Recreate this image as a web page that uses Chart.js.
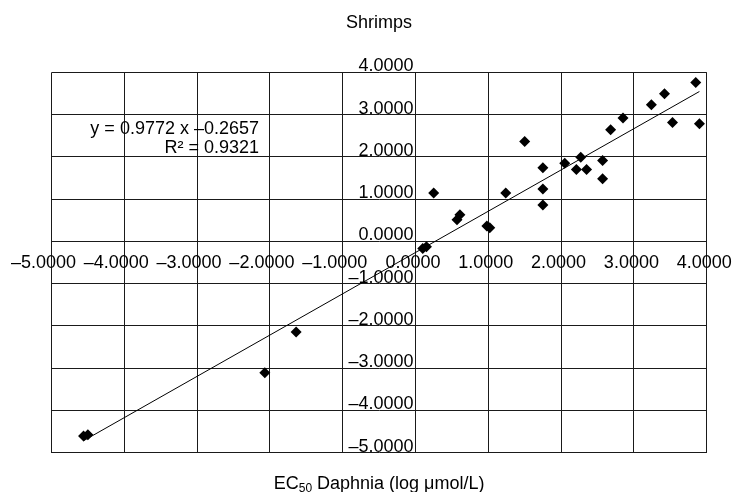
<!DOCTYPE html>
<html>
<head>
<meta charset="utf-8">
<title>Shrimps</title>
<script src="https://cdn.jsdelivr.net/npm/chart.js@4.4.0/dist/chart.umd.min.js"></script>
<style>
    html, body { margin: 0; padding: 0; background: #fff; }
    canvas { display: block; }
</style>
</head>
<body>
<canvas id="shrimps-chart" width="733" height="492"></canvas>
<script>
    "use strict";

    // EC50 Daphnia (log umol/L) vs shrimps
    const daphniaX = [-4.56, -4.50, -2.07, -1.64, 0.10, 0.15, 0.25, 0.57, 0.61, 0.98, 1.02, 1.24, 1.50, 1.75, 1.75, 1.75, 2.05, 2.21, 2.27, 2.35, 2.57, 2.57, 2.68, 2.85, 3.24, 3.42, 3.53, 3.85, 3.90];
    const shrimpY = [-4.61, -4.58, -3.11, -2.15, -0.17, -0.13, 1.14, 0.51, 0.63, 0.36, 0.32, 1.14, 2.36, 1.74, 1.24, 0.86, 1.85, 1.70, 1.99, 1.70, 1.91, 1.48, 2.64, 2.92, 3.23, 3.49, 2.81, 3.76, 2.78];

    // trendline as printed on the chart
    const slope = 0.9772;
    const intercept = -0.2657;
    const equationLines = ['y = 0.9772 x \u20130.2657', 'R\u00B2 = 0.9321'];

    const xTicks = [-5, -4, -3, -2, -1, 0, 1, 2, 3, 4];
    const xTickLabels = ['\u20135.0000', '\u20134.0000', '\u20133.0000', '\u20132.0000', '\u20131.0000', '0.0000', '1.0000', '2.0000', '3.0000', '4.0000'];
    const yTicks = [-5, -4, -3, -2, -1, 0, 1, 2, 3, 4];
    const yTickLabels = ['\u20135.0000', '\u20134.0000', '\u20133.0000', '\u20132.0000', '\u20131.0000', '0.0000', '1.0000', '2.0000', '3.0000', '4.0000'];

    const chartTitle = 'Shrimps';
    const xTitle = ['EC', '50', ' Daphnia (log \u03BCmol/L)'];

    const FONT = '"Liberation Sans", Arial, Helvetica, sans-serif';

    var points = daphniaX.map(function (x, i) {
        return {x: x, y: shrimpY[i]};
    });
    var xMin = Math.min.apply(null, daphniaX);
    var xMax = Math.max.apply(null, daphniaX);
    var trend = [
        {x: xMin, y: slope * xMin + intercept},
        {x: xMax, y: slope * xMax + intercept}
    ];

    // Texts: tick labels sit on the axes through the origin, like Excel does
    const excelText = {
        id: 'excelText',
        beforeDatasetsDraw: function (chart) {
            const ctx = chart.ctx;
            const area = chart.chartArea;
            const sx = chart.scales.x;
            const sy = chart.scales.y;
            const x0 = sx.getPixelForValue(0);
            const y0 = sy.getPixelForValue(0);
            const mid = (area.left + area.right) / 2;

            ctx.save();
            ctx.fillStyle = '#000';
            ctx.font = '18px ' + FONT;
            ctx.textBaseline = 'alphabetic';

            // y labels, right aligned on the left of the y axis, resting on their line
            ctx.textAlign = 'right';
            sy.ticks.forEach(function (t) {
                ctx.fillText(t.label, x0 - 2, sy.getPixelForValue(t.value) - 1);
            });

            // x labels under the x axis (negatives sit a bit to the left)
            ctx.textAlign = 'center';
            sx.ticks.forEach(function (t) {
                const px = sx.getPixelForValue(t.value);
                ctx.fillText(t.label, px - (t.value < 0 ? 8 : 2.5), y0 + 26.5);
            });

            // trendline label
            ctx.textAlign = 'right';
            ctx.fillText(equationLines[0], 259, 133.5);
            ctx.fillText(equationLines[1], 259, 153);

            // title
            ctx.textAlign = 'center';
            ctx.fillText(chartTitle, mid, 28);

            // x axis title with subscript
            const wA = ctx.measureText(xTitle[0]).width;
            const wC = ctx.measureText(xTitle[2]).width;
            ctx.font = '12px ' + FONT;
            const wB = ctx.measureText(xTitle[1]).width;
            let left = mid - (wA + wB + wC) / 2;
            ctx.textAlign = 'left';
            ctx.font = '18px ' + FONT;
            ctx.fillText(xTitle[0], left, 489);
            ctx.font = '12px ' + FONT;
            ctx.fillText(xTitle[1], left + wA, 492);
            ctx.font = '18px ' + FONT;
            ctx.fillText(xTitle[2], left + wA + wB, 489);
            ctx.restore();
        }
    };

    var ctx1 = document.getElementById('shrimps-chart').getContext('2d');
    var myChart1 = new Chart(ctx1, {
        type: 'scatter',
        data: {
            datasets: [{
                    label: 'Shrimps',
                    data: points,
                    pointStyle: 'rectRot',
                    pointRadius: 5.5,
                    backgroundColor: '#000',
                    borderColor: '#000',
                    borderWidth: 0
                },
                {
                    type: 'line',
                    label: 'Linear',
                    data: trend,
                    borderColor: '#000',
                    borderWidth: 1,
                    pointRadius: 0,
                    fill: false
                }
            ]
        },
        options: {
            responsive: false,
            animation: false,
            events: [],
            layout: {
                padding: {left: 51.5, right: 26.3, top: 72.3, bottom: 39.5}
            },
            plugins: {
                legend: {display: false},
                tooltip: {enabled: false},
                title: {display: false}
            },
            scales: {
                x: {
                    type: 'linear',
                    min: xTicks[0],
                    max: xTicks[xTicks.length - 1],
                    afterBuildTicks: function (scale) {
                        scale.ticks = xTicks.map(function (v) { return {value: v}; });
                    },
                    ticks: {
                        display: false,
                        callback: function (value) {
                            return xTickLabels[xTicks.indexOf(value)];
                        }
                    },
                    grid: {color: '#1a1a1a', lineWidth: 1, drawTicks: false},
                    border: {display: false},
                    afterFit: function (scale) {
                        scale.height = 0;
                        scale.paddingLeft = 0;
                        scale.paddingRight = 0;
                    }
                },
                y: {
                    type: 'linear',
                    min: yTicks[0],
                    max: yTicks[yTicks.length - 1],
                    afterBuildTicks: function (scale) {
                        scale.ticks = yTicks.map(function (v) { return {value: v}; });
                    },
                    ticks: {
                        display: false,
                        callback: function (value) {
                            return yTickLabels[yTicks.indexOf(value)];
                        }
                    },
                    grid: {color: '#1a1a1a', lineWidth: 1, drawTicks: false},
                    border: {display: false},
                    afterFit: function (scale) {
                        scale.width = 0;
                        scale.paddingTop = 0;
                        scale.paddingBottom = 0;
                    }
                }
            }
        },
        plugins: [excelText]
    });
</script>
</body>
</html>
